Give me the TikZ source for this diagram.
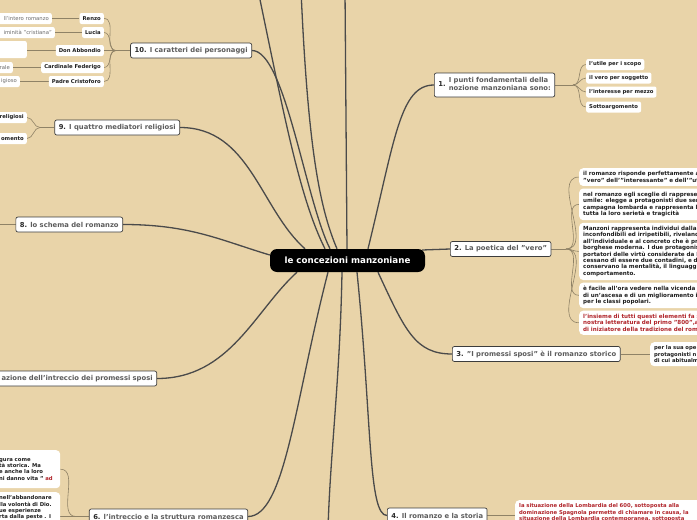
\documentclass[tikz,border=0pt]{standalone}
\usepackage{fontspec}
\setmainfont{DejaVu Sans}
\usepackage{tikz}
\usetikzlibrary{positioning}
\definecolor{Paper}{HTML}{E9D4A9}
\definecolor{Trunk}{HTML}{4A4A4A}
\definecolor{Twig}{HTML}{8F8266}
\definecolor{TopicLine}{HTML}{3C3C3C}
\definecolor{TopicInk}{HTML}{5C5C5C}
\definecolor{NumInk}{HTML}{2A2A2A}
\definecolor{LeafInk}{HTML}{1E1E1E}
\definecolor{StubInk}{HTML}{6A6A6A}
\definecolor{NoteRed}{HTML}{B0242A}
\pgfdeclarelayer{back}
\pgfsetlayers{back,main}

\begin{document}
\begin{tikzpicture}[
  x=1pt,y=-1pt,
  hub/.style={fill=black,rounded corners=7pt,text=white,font=\fontsize{8.7}{10}\selectfont\bfseries,minimum width=155pt,minimum height=23pt,inner sep=0pt},
  topic/.style={draw=TopicLine,line width=0.7pt,fill=white,rounded corners=2pt,text=TopicInk,font=\fontsize{6.8}{8}\selectfont\bfseries,inner xsep=4pt,inner ysep=2pt,minimum height=15pt},
  leaf/.style={fill=white,rounded corners=2pt,text=LeafInk,font=\fontsize{5.3}{6.4}\selectfont\bfseries,inner xsep=3pt,inner ysep=2pt,minimum height=11pt},
  stub/.style={fill=white,rounded corners=2pt,text=StubInk,font=\fontsize{5.3}{6.4}\selectfont,inner xsep=3pt,inner ysep=2pt,minimum height=11pt,text width=60pt,align=right},
  note/.style={fill=white,rounded corners=4pt,text=LeafInk,font=\fontsize{5.3}{6.4}\selectfont\bfseries,inner xsep=4pt,inner ysep=3.5pt,align=left},
  vnote/.style={note,text width=140pt,font=\fontsize{5.6}{6.4}\selectfont\bfseries},
  trunk/.style={line width=1.3pt,color=Trunk},
  twig/.style={line width=0.6pt,color=Twig}
]
\useasboundingbox (0,0) rectangle (697,520);
\clip (0,0) rectangle (697,520);

\node[hub] (hub) at (347.5,260.5) {le concezioni manzoniane};

\node[topic,anchor=west,minimum height=24pt] (t1) at (434,85) {\textcolor{NumInk}{1.} \begin{tabular}{@{}l@{}}I punti fondamentali della\\nozione manzoniana sono:\end{tabular}};
\node[topic,anchor=west] (t2) at (450,249) {\textcolor{NumInk}{2.} La poetica del "vero"};
\node[topic,anchor=west] (t3) at (452,354) {\textcolor{NumInk}{3.} "I promessi sposi" è il romanzo storico};
\node[topic,anchor=west] (t4) at (387,515.5) {\textcolor{NumInk}{4.} Il romanzo e la storia};
\node[topic,anchor=east] (t6) at (248,516.5) {\textcolor{NumInk}{6.} l'intreccio e la struttura romanzesca};
\node[topic,anchor=east,text width=170pt,align=right] (t7) at (157,378.5) {azione dell'intreccio dei promessi sposi};
\node[topic,anchor=east] (t8) at (123,224.5) {\textcolor{NumInk}{8.} lo schema del romanzo};
\node[topic,anchor=east] (t9) at (180,127.5) {\textcolor{NumInk}{9.} I quattro mediatori religiosi};
\node[topic,anchor=east] (t10) at (252,50.5) {\textcolor{NumInk}{10.} I caratteri dei personaggi};

\coordinate (up1) at (258,-10);
\coordinate (up2) at (301,-10);
\coordinate (up3) at (345,-10);
\coordinate (down5) at (328,530);
\coordinate (left8) at (-5,224.5);
\coordinate (fork1) at (573,85);
\coordinate (fork2) at (566,249);
\coordinate (fork6) at (76,516.5);
\coordinate (fork9) at (40,127.5);
\coordinate (fork10) at (116,50.5);

\node[leaf,anchor=west] (s11) at (586,64.5) {l'utile per i scopo};
\node[leaf,anchor=west] (s12) at (586,78) {il vero per soggetto};
\node[leaf,anchor=west] (s13) at (586,92) {l'interesse per mezzo};
\node[leaf,anchor=west] (s14) at (586,107) {Sottoargomento};

\node[vnote,anchor=north west] (v1) at (579,168) {il romanzo risponde perfettamente a\\"vero" dell'"interessante" e dell'"util};
\node[vnote,below=2.2pt of v1.south west,anchor=north west] (v2) {nel romanzo egli sceglie di rappresen\\umile: elegge a protagonisti due sem\\campagna lombarda e rappresenta le\\tutta la loro serietà e tragicità};
\node[vnote,below=2.2pt of v2.south west,anchor=north west] (v3) {Manzoni rappresenta individui dalla p\\inconfondibili ed irripetibili, rivelando\\all'individuale e al concreto che è pro\\borghese moderna. I due protagonist\\portatori delle virtù considerate da M\\cessano di essere due contadini, e de\\conservano la mentalità, il linguaggio\\comportamento.};
\node[vnote,below=2.2pt of v3.south west,anchor=north west] (v4) {è facile all'ora vedere nella vicenda d\\di un'ascesa e di un miglioramento in\\per le classi popolari.};
\node[vnote,text=NoteRed,below=2.2pt of v4.south west,anchor=north west] (v5) {l'insieme di tutti questi elementi fa s\\nostra letteratura del primo "800",a\\di iniziatore della tradizione del roma};

\node[note,anchor=north west,text width=60pt] (n3) at (650,342) {per la sua ope\\protagonisti n\\di cui abitualm};
\node[note,anchor=north west,text width=200pt,text=NoteRed] (n4) at (515,500) {la situazione della Lombardia del 600, sottoposta alla\\dominazione Spagnola permette di chiamare in causa, la\\situazione della Lombardia contemporanea, sottoposta};

\node[note,anchor=north west,text width=57pt,minimum height=38pt] (p1) at (-5,450) {gura come\\tà storica. Ma\\e anche la loro\\ni danno vita " \textcolor{NoteRed}{ad}};
\node[note,anchor=north west,text width=57pt] (p2) at (-5,492) {nell'abbandonare\\lla volontà di Dio.\\ue esperienze\\rta dalla peste . I};

\node[leaf,anchor=east,text width=40pt,align=right] (rel1) at (27,117.5) {religiosi};
\node[leaf,anchor=east,text width=40pt,align=right] (rel2) at (27,138.5) {omento};

\node[leaf,anchor=east] (renzo) at (104,18.5) {Renzo};
\node[leaf,anchor=east] (lucia) at (104,32.5) {Lucia};
\node[leaf,anchor=east] (abbondio) at (104,50.5) {Don Abbondio};
\node[leaf,anchor=east] (federigo) at (104,67.5) {Cardinale Federigo};
\node[leaf,anchor=east] (cristoforo) at (104,81.5) {Padre Cristoforo};

\node[stub,anchor=east] (renzo2) at (52,18.5) {ll'intero romanzo};
\node[stub,anchor=east] (lucia2) at (55,32.5) {iminità "cristiana"};
\node[stub,anchor=east,minimum height=17pt] (abbondio2) at (27,49.5) {};
\node[stub,anchor=east] (federigo2) at (13,67.5) {rale};
\node[stub,anchor=east] (cristoforo2) at (20,81.5) {igioso};

\begin{pgfonlayer}{back}
\fill[Paper] (0,0) rectangle (697,520);
\draw[trunk] ([xshift=20.5pt]hub.north) .. controls +(27,-110) and +(-34,0) .. (t1.west);
\draw[trunk] ([xshift=-3pt,yshift=10.5pt]hub.east) -- (t2.west);
\draw[trunk] ([xshift=30.5pt]hub.south) .. controls +(27,58) and +(-37,0) .. (t3.west);
\draw[trunk] ([xshift=9.5pt]hub.south) .. controls +(15,148) and +(-19,0) .. (t4.west);
\draw[trunk] ([xshift=-5.5pt]hub.south) .. controls +(-2,108) and +(2,-75) .. (down5);
\draw[trunk] ([xshift=-19.5pt]hub.south) .. controls +(-33,128) and +(37,0) .. (t6.east);
\draw[trunk] ([xshift=-50.5pt]hub.south) .. controls +(-42,38) and +(73,0) .. (t7.east);
\draw[trunk] ([yshift=5.5pt]hub.west) .. controls +(-50,-15) and +(67,0) .. (t8.east);
\draw[trunk] ([xshift=-42.5pt]hub.north) .. controls +(-45,-40) and +(70,0) .. (t9.east);
\draw[trunk] ([xshift=-17.5pt]hub.north) .. controls +(-25,-50) and +(33,0) .. (t10.east);
\draw[trunk] ([xshift=-22.5pt]hub.north) .. controls +(-25,-50) and +(27,130) .. (up1);
\draw[trunk] ([xshift=-10.5pt]hub.north) .. controls +(-17,-40) and +(7,160) .. (up2);
\draw[trunk] ([xshift=-0.5pt]hub.north) -- (up3);

\draw[twig] (t1.east) -- (fork1);
\draw[twig] (fork1) to[out=0,in=180] (s11.west);
\draw[twig] (fork1) to[out=0,in=180] (s12.west);
\draw[twig] (fork1) to[out=0,in=180] (s13.west);
\draw[twig] (fork1) to[out=0,in=180] (s14.west);
\draw[twig] (t2.east) -- (fork2);
\draw[twig] (fork2) to[out=0,in=180] (v1.west);
\draw[twig] (fork2) to[out=0,in=180] (v2.west);
\draw[twig] (fork2) to[out=0,in=180] (v3.west);
\draw[twig] (fork2) to[out=0,in=180] (v4.west);
\draw[twig] (fork2) to[out=0,in=180] (v5.west);
\draw[twig] (t3.east) -- (t3.east -| n3.west);
\draw[twig] (t4.east) -- (t4.east -| n4.west);
\draw[twig] (t6.west) -- (fork6);
\draw[twig] (fork6) to[out=180,in=0] (p1.east);
\draw[twig] (fork6) -- (fork6 -| p2.east);
\draw[twig] (t8.west) -- (left8);
\draw[twig] (t9.west) -- (fork9);
\draw[twig] (fork9) to[out=180,in=0] (rel1.east);
\draw[twig] (fork9) to[out=180,in=0] (rel2.east);
\draw[twig] (t10.west) -- (fork10);
\draw[twig] (fork10) to[out=180,in=0] (renzo.east);
\draw[twig] (fork10) to[out=180,in=0] (lucia.east);
\draw[twig] (fork10) to[out=180,in=0] (abbondio.east);
\draw[twig] (fork10) to[out=180,in=0] (federigo.east);
\draw[twig] (fork10) to[out=180,in=0] (cristoforo.east);
\draw[twig] (renzo.west) -- (renzo2.east);
\draw[twig] (lucia.west) -- (lucia2.east);
\draw[twig] (abbondio.west) -- (abbondio.west -| abbondio2.east);
\draw[twig] (federigo.west) -- (federigo2.east);
\draw[twig] (cristoforo.west) -- (cristoforo2.east);
\end{pgfonlayer}
\end{tikzpicture}
\end{document}
